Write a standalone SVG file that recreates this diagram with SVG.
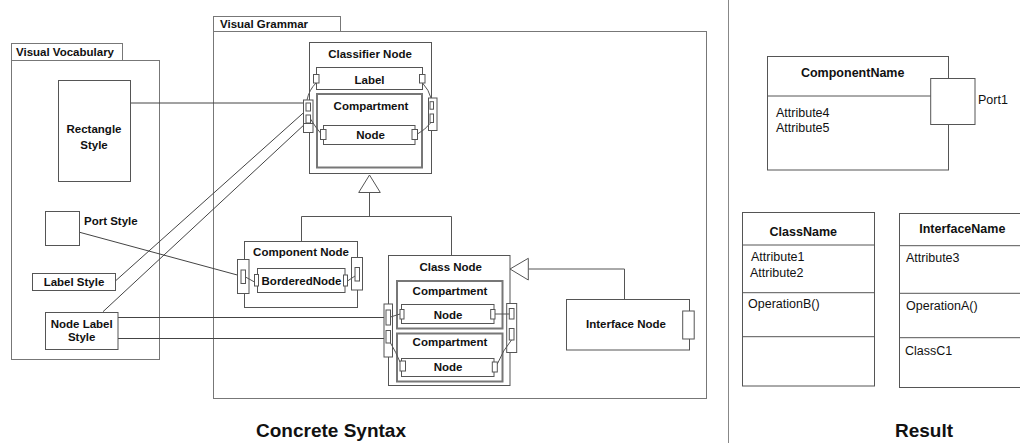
<svg xmlns="http://www.w3.org/2000/svg" width="1020" height="443" viewBox="0 0 1020 443">
<style>
.b{font-family:"Liberation Sans",Arial,sans-serif;font-weight:bold;font-size:11.5px;fill:#111}
.c{text-anchor:middle}
.r{font-family:"Liberation Sans",Arial,sans-serif;font-size:12.5px;fill:#111}
.rb{font-family:"Liberation Sans",Arial,sans-serif;font-weight:bold;font-size:12.5px;fill:#111}
.big{font-family:"Liberation Sans",Arial,sans-serif;font-weight:bold;font-size:19px;fill:#111;text-anchor:middle}
.fr{fill:none;stroke:#777;stroke-width:1}
.n{fill:#fff;stroke:#555;stroke-width:1}
.cp{fill:#fff;stroke:#777;stroke-width:2}
.p{fill:#fff;stroke:#555;stroke-width:1}
.l{fill:none;stroke:#555;stroke-width:1}
.ln{fill:none;stroke:#444;stroke-width:1}
</style>
<rect width="1020" height="443" fill="#fff"/>
<line x1="728.5" y1="0" x2="728.5" y2="443" stroke="#888" stroke-width="1"/>

<g id="visual-vocabulary">
<rect class="fr" x="11.5" y="43.5" width="111" height="17"/>
<rect class="fr" x="11.5" y="60.5" width="148" height="299"/>
<text class="b" x="16" y="55.5">Visual Vocabulary</text>
</g>
<g id="visual-grammar">
<rect class="fr" x="213.5" y="16.5" width="127" height="15"/>
<rect class="fr" x="213.5" y="31.5" width="493" height="367"/>
<text class="b" x="220" y="28">Visual Grammar</text>
</g>

<g id="connectors">
<line class="ln" x1="130" y1="103" x2="304" y2="103"/>
<line class="ln" x1="115.7" y1="280.7" x2="306" y2="110.5"/>
<line class="ln" x1="103" y1="311.7" x2="306" y2="123"/>
<line class="ln" x1="79.7" y1="232.3" x2="241" y2="276"/>
<line class="ln" x1="118" y1="317.5" x2="386" y2="317.5"/>
<line class="ln" x1="118" y1="338.5" x2="386" y2="338.5"/>
<path class="l" d="M369.5,216 V192.5 M301.5,241.5 V216.5 H451.5 V255"/>
<path class="n" d="M369.5,175 L358.7,192.5 L380.3,192.5 Z"/>
<path class="l" d="M528.3,269 H624.5 V299"/>
<path class="n" d="M510,269 L528.3,258.3 L528.3,280 Z"/>
</g>

<g id="rectangle-style">
<rect class="n" x="58.5" y="80.5" width="72" height="101"/>
<text class="b c" x="94" y="133">Rectangle</text>
<text class="b c" x="94" y="149">Style</text>
</g>
<g id="port-style">
<rect class="n" x="45.5" y="211.5" width="34" height="34"/>
<text class="b" x="84" y="225">Port Style</text>
</g>
<g id="label-style">
<rect class="n" x="32.5" y="273.5" width="83" height="17"/>
<text class="b c" x="74" y="286">Label Style</text>
</g>
<g id="node-label-style">
<rect class="n" x="45.5" y="312.5" width="72.5" height="37"/>
<text class="b c" x="81.7" y="327.5">Node Label</text>
<text class="b c" x="81.7" y="341">Style</text>
</g>

<g id="classifier-node">
<rect class="n" x="309.5" y="42.5" width="122" height="131"/>
<text class="b c" x="370" y="58">Classifier Node</text>
<rect class="n" x="316.5" y="67.5" width="106" height="22"/>
<text class="b c" x="369.5" y="83.5">Label</text>
<rect class="cp" x="317" y="94" width="105" height="73.5"/>
<text class="b c" x="371" y="110">Compartment</text>
<rect class="n" x="323.5" y="125.5" width="91.5" height="19"/>
<text class="b c" x="370.5" y="139">Node</text>
<rect class="p" x="313.5" y="74.5" width="5.5" height="8.5"/>
<rect class="p" x="419.5" y="74.5" width="5.5" height="8.5"/>
<rect class="p" x="320.5" y="129.5" width="5.5" height="10"/>
<rect class="p" x="412" y="129.5" width="5.5" height="10"/>
<rect class="p" x="303.5" y="100" width="9.5" height="32.5"/>
<rect class="p" x="306" y="103" width="4.5" height="8"/>
<rect class="p" x="306" y="115" width="4.5" height="8"/>
<line class="l" x1="303.5" y1="123.5" x2="313" y2="123.5"/>
<rect class="p" x="428.5" y="98" width="8.5" height="32.5"/>
<rect class="p" x="430" y="101.7" width="3.5" height="7.5"/>
<rect class="p" x="430" y="114" width="3.5" height="8.5"/>
<path class="l" d="M316,83 Q309,90 307,100"/>
<path class="l" d="M310.5,119 Q316,128 320.5,133"/>
<path class="l" d="M422.5,83 Q429,90 431,98"/>
<path class="l" d="M431,122.5 Q425,130 417.5,134"/>
</g>

<g id="component-node">
<rect class="n" x="244.5" y="241.5" width="113" height="66"/>
<text class="b c" x="301" y="256">Component Node</text>
<rect class="n" x="257.5" y="268.5" width="87.5" height="24"/>
<text class="b c" x="301.5" y="285">BorderedNode</text>
<rect class="p" x="237.5" y="259.5" width="11.5" height="34"/>
<rect class="p" x="241" y="270" width="4.5" height="13.5"/>
<rect class="p" x="254.5" y="274.5" width="4" height="11.5"/>
<rect class="p" x="351.5" y="257.5" width="11" height="32.5"/>
<rect class="p" x="355" y="267.5" width="4.5" height="13.5"/>
<rect class="p" x="343.5" y="275" width="4" height="11"/>
<line class="l" x1="245.5" y1="277" x2="254.5" y2="282"/>
<line class="l" x1="347.5" y1="281" x2="355" y2="276"/>
</g>

<g id="class-node">
<rect class="n" x="388.5" y="255.5" width="121.5" height="130"/>
<text class="b c" x="450.7" y="271">Class Node</text>
<rect class="cp" x="397" y="281" width="105.5" height="47.5"/>
<text class="b c" x="450" y="295">Compartment</text>
<rect class="n" x="401.5" y="304.5" width="92.5" height="19"/>
<text class="b c" x="448" y="318.5">Node</text>
<rect class="cp" x="397" y="333.5" width="105.5" height="48"/>
<text class="b c" x="450" y="346">Compartment</text>
<rect class="n" x="401.5" y="358.5" width="92.5" height="18"/>
<text class="b c" x="448" y="371">Node</text>
<rect class="p" x="400" y="309.5" width="4" height="9.5"/>
<rect class="p" x="490.7" y="309.5" width="4.3" height="9.5"/>
<rect class="p" x="400" y="361" width="5.5" height="10"/>
<rect class="p" x="492.3" y="362" width="5" height="10"/>
<rect class="p" x="384" y="304" width="8.5" height="53"/>
<rect class="p" x="386" y="310" width="4.5" height="15"/>
<rect class="p" x="386" y="330.5" width="4.5" height="12.5"/>
<rect class="p" x="506.7" y="303.5" width="10" height="49"/>
<rect class="p" x="509.3" y="308.5" width="4.7" height="10.5"/>
<rect class="p" x="509.3" y="328.5" width="4.7" height="11.5"/>
<line class="l" x1="390.5" y1="317" x2="400" y2="314"/>
<path class="l" d="M390.5,343 Q396,352 400,362"/>
<line class="l" x1="495" y1="314" x2="509.3" y2="314"/>
<path class="l" d="M511.5,340 Q503,350 497.3,364"/>
</g>

<g id="interface-node">
<rect class="n" x="566.5" y="299.5" width="123" height="50.5"/>
<text class="b c" x="626" y="328">Interface Node</text>
<rect class="p" x="682.7" y="311" width="11.5" height="28"/>
</g>

<g id="component-result">
<rect class="n" x="767.5" y="56.5" width="181" height="113.5"/>
<line class="l" x1="767.5" y1="96" x2="948.5" y2="96"/>
<text class="rb c" x="852.7" y="76.5">ComponentName</text>
<text class="r" x="776" y="116.5">Attribute4</text>
<text class="r" x="776" y="131.5">Attribute5</text>
<rect class="n" x="930.7" y="78.5" width="44.3" height="46"/>
<text class="r" x="978" y="103.5">Port1</text>
</g>

<g id="class-result">
<rect class="n" x="742.5" y="212.5" width="132" height="173.5"/>
<line class="l" x1="742.5" y1="245" x2="874.5" y2="245"/>
<line class="l" x1="742.5" y1="292.7" x2="874.5" y2="292.7"/>
<line class="l" x1="742.5" y1="336.7" x2="874.5" y2="336.7"/>
<text class="rb c" x="803.3" y="236">ClassName</text>
<text class="r" x="751" y="261">Attribute1</text>
<text class="r" x="750" y="277">Attribute2</text>
<text class="r" x="748" y="308">OperationB()</text>
</g>

<g id="interface-result">
<rect class="n" x="899.5" y="213.5" width="130" height="174"/>
<line class="l" x1="899.5" y1="245.7" x2="1020" y2="245.7"/>
<line class="l" x1="899.5" y1="293.3" x2="1020" y2="293.3"/>
<line class="l" x1="899.5" y1="337.7" x2="1020" y2="337.7"/>
<text class="rb c" x="962.3" y="232.5">InterfaceName</text>
<text class="r" x="906" y="261.5">Attribute3</text>
<text class="r" x="906" y="310">OperationA()</text>
<text class="r" x="905" y="355">ClassC1</text>
</g>

<text class="big" x="331" y="437">Concrete Syntax</text>
<text class="big" x="924" y="437">Result</text>
</svg>
